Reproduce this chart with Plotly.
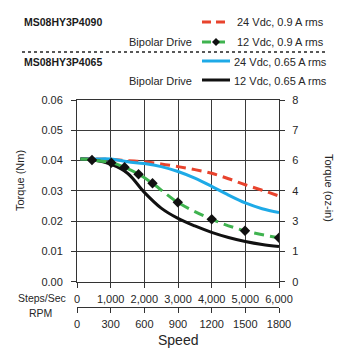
import plotly.graph_objects as go

# ---------------- data ----------------
red_x = [100, 500, 1000, 1500, 2000, 2500, 3000, 3500, 4000, 4500, 5000, 5500, 6000]
red_y = [0.0405, 0.0405, 0.0404, 0.0400, 0.0396, 0.0389, 0.0380, 0.0370, 0.0358, 0.0340, 0.0320, 0.0302, 0.0283]

blue_x = [100, 500, 1000, 1500, 2000, 2500, 3000, 3500, 4000, 4500, 5000, 5500, 6000]
blue_y = [0.0405, 0.0405, 0.0405, 0.0396, 0.0390, 0.0380, 0.0364, 0.0342, 0.0315, 0.0286, 0.0260, 0.0241, 0.0228]

green_x = [100, 445, 1018, 1413, 1828, 2243, 2994, 4002, 4990, 6000]
green_y = [0.0405, 0.0402, 0.0393, 0.0378, 0.0355, 0.0325, 0.0262, 0.0206, 0.0168, 0.0145]

black_x = [100, 500, 1000, 1500, 2000, 2500, 3000, 3500, 4000, 4500, 5000, 5500, 6000]
black_y = [0.0405, 0.0402, 0.0388, 0.0358, 0.0295, 0.0243, 0.0209, 0.0184, 0.0163, 0.0146, 0.0133, 0.0123, 0.0116]

steps_ticks = [0, 1000, 2000, 3000, 4000, 5000, 6000]
steps_labels = ["0", "1,000", "2,000", "3,000", "4,000", "5,000", "6,000"]
rpm_ticks = [0, 300, 600, 900, 1200, 1500, 1800]
nm_ticks = [0.00, 0.01, 0.02, 0.03, 0.04, 0.05, 0.06]
ozin_labels = ["0", "1", "3", "4", "6", "7", "8"]

RED = "#e8432d"
GREEN = "#3fb34f"
BLUE = "#1eaae7"
BLACK = "#111111"
TXT = "#262626"
FONT = "Liberation Sans, Arial, sans-serif"
DASH = "10px,6px"

W, H = 352, 355
ML, MR, MT, MB = 77, 73, 100, 48
PW, PH = W - ML - MR, H - MT - MB
plot_bottom = 281.7
ydom0 = ((MT + PH) - plot_bottom) / PH


def px(x):
    return (x - ML) / PW


def py(y):
    return ((MT + PH) - y) / PH


fig = go.Figure()
fig.add_trace(go.Scatter(x=red_x, y=red_y, mode="lines", line=dict(color=RED, width=3, dash=DASH, shape="spline"),
                         showlegend=False, hoverinfo="skip"))
fig.add_trace(go.Scatter(x=blue_x, y=blue_y, mode="lines", line=dict(color=BLUE, width=3, shape="spline"),
                         showlegend=False, hoverinfo="skip"))
fig.add_trace(go.Scatter(x=black_x, y=black_y, mode="lines", line=dict(color=BLACK, width=3, shape="spline"),
                         showlegend=False, hoverinfo="skip"))
fig.add_trace(go.Scatter(x=green_x, y=green_y, mode="lines", line=dict(color=GREEN, width=3, dash=DASH, shape="spline"),
                         showlegend=False, hoverinfo="skip"))
fig.add_trace(go.Scatter(x=green_x[1:], y=green_y[1:], mode="markers",
                         marker=dict(symbol="diamond", size=8, color=BLACK),
                         showlegend=False, hoverinfo="skip"))
# invisible traces to activate secondary axes
fig.add_trace(go.Scatter(x=[0], y=[0], xaxis="x2", yaxis="y", mode="markers", marker=dict(opacity=0),
                         showlegend=False, hoverinfo="skip"))
fig.add_trace(go.Scatter(x=[0], y=[0], xaxis="x", yaxis="y2", mode="markers", marker=dict(opacity=0),
                         showlegend=False, hoverinfo="skip"))

fig.update_layout(
    width=W, height=H,
    margin=dict(l=ML, r=MR, t=MT, b=MB),
    paper_bgcolor="white", plot_bgcolor="white",
    font=dict(family=FONT, size=11, color=TXT),
    xaxis=dict(range=[0, 6000], tickvals=steps_ticks, ticktext=steps_labels, tickangle=0,
               showgrid=True, gridcolor="#3a3a3a", gridwidth=1,
               showline=True, linecolor="#333333", linewidth=1, mirror=True,
               ticks="outside", ticklen=5, tickcolor="#333333", zeroline=False,
               ticklabelstandoff=2, anchor="y"),
    xaxis2=dict(range=[0, 1800], tickvals=rpm_ticks, tickangle=0, overlaying="x", anchor="free", position=0,
                showgrid=False, showline=True, linecolor="#333333", linewidth=1,
                ticks="outside", ticklen=5, tickcolor="#333333", zeroline=False, side="bottom",
                ticklabelstandoff=2),
    yaxis=dict(domain=[ydom0, 1], range=[0, 0.06], tickvals=nm_ticks, tickformat=".2f",
               showgrid=True, gridcolor="#3a3a3a", gridwidth=1,
               showline=True, linecolor="#333333", linewidth=1,
               ticks="outside", ticklen=5, tickcolor="#333333", zeroline=False,
               ticklabelstandoff=6),
    yaxis2=dict(range=[0, 0.06], tickvals=nm_ticks, ticktext=ozin_labels, overlaying="y", side="right",
                showgrid=False, showline=True, linecolor="#333333", linewidth=1,
                ticks="outside", ticklen=5, tickcolor="#333333", zeroline=False,
                ticklabelstandoff=5),
)

ann = []


def text(x, y, s, size=11, xanchor="left", bold=False, angle=0):
    ann.append(dict(x=px(x), y=py(y), xref="paper", yref="paper", text=("<b>%s</b>" % s) if bold else s,
                    showarrow=False, xanchor=xanchor, yanchor="middle", textangle=angle,
                    font=dict(family=FONT, size=size, color=TXT if not bold else "#1a1a1a")))


text(68, 298, "Steps/Sec", 10.5, "right")
text(40, 313, "RPM", 10.5, "center")
text(178, 340, "Speed", 14, "center")
text(20, 181, "Torque (Nm)", 11, "center", angle=-90)
text(329, 188, "Torque (oz-in)", 11, "center", angle=90)

text(22, 22, "MS08HY3P4090", 10.5, "left", bold=True)
text(22, 62, "MS08HY3P4065", 10.5, "left", bold=True)
text(194, 42, "Bipolar Drive", 11, "right")
text(194, 81, "Bipolar Drive", 11, "right")
text(235, 22, "24 Vdc, 0.9 A rms", 11)
text(235, 42, "12 Vdc, 0.9 A rms", 11)
text(232, 62, "24 Vdc, 0.65 A rms", 11)
text(232, 81, "12 Vdc, 0.65 A rms", 11)

shapes = []


def seg(x0, x1, y, color, dash="solid", width=3):
    shapes.append(dict(type="line", xref="paper", yref="paper", x0=px(x0), x1=px(x1), y0=py(y), y1=py(y),
                       line=dict(color=color, width=width, dash=dash)))


seg(202, 226, 22, RED, "9px,5px")
seg(202, 226, 42, GREEN, "9px,5px")
seg(202, 230, 61, BLUE)
seg(202, 230, 80, BLACK)
seg(22, 327, 52, "#222222", "3px,3px", 1.5)

# diamond glyph in legend sample
cx, cy, r = 216, 42, 4
shapes.append(dict(type="path", xref="paper", yref="paper",
                   path="M %f,%f L %f,%f L %f,%f L %f,%f Z" % (px(cx - r), py(cy), px(cx), py(cy - r),
                                                            px(cx + r), py(cy), px(cx), py(cy + r)),
                   fillcolor=BLACK, line=dict(color=BLACK, width=0)))
fig.update_layout(annotations=ann, shapes=shapes)

fig.write_html("out.html")
